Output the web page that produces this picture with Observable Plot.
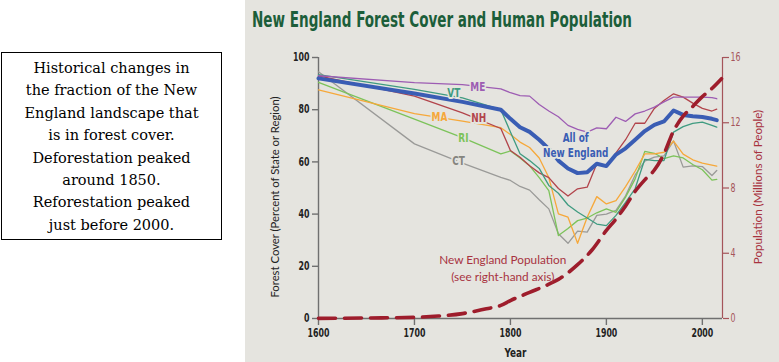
<!DOCTYPE html>
<html><head><meta charset="utf-8">
<script src="https://cdn.jsdelivr.net/npm/d3@7"></script>
<script src="https://cdn.jsdelivr.net/npm/@observablehq/plot@0.6"></script>
<style>
html,body{margin:0;padding:0;background:#fff;width:779px;height:362px;overflow:hidden;}
#note{position:absolute;left:1px;top:52px;width:221px;height:188px;border:1px solid #000;box-sizing:border-box;font-family:"DejaVu Serif","Liberation Serif",serif;font-size:14.5px;line-height:22.4px;text-align:center;padding-top:4px;color:#000;background:#fff;}
#panel{position:absolute;left:245px;top:0;width:534px;height:362px;background:#e5e4df;overflow:hidden;}
#title{position:absolute;left:7px;top:8px;font-family:"Liberation Sans Narrow","DejaVu Sans Condensed","Roboto",sans-serif;font-stretch:condensed;font-weight:bold;font-size:21px;line-height:24px;color:#1c5e3a;white-space:nowrap;transform-origin:0 0;}
#chart{position:absolute;left:0;top:40px;}
</style></head>
<body>
<div id="note">Historical changes in<br>the fraction of the New<br>England landscape that<br>is in forest cover.<br>Deforestation peaked<br>around 1850.<br>Reforestation peaked<br>just before 2000.</div>
<div id="panel">
  <div id="title">New England Forest Cover and Human Population</div>
  <div id="chart"></div>
</div>
<script>
// ---- data ----
const years = [1600, 1700, 1750, 1790, 1800, 1810, 1820, 1830, 1840, 1850, 1860, 1870, 1880, 1890, 1900, 1910, 1920, 1930, 1940, 1950, 1960, 1970, 1980, 1990, 2000, 2010, 2015];
const forestCT = [94.5, 66.9, 59.5, 54.1, 52.9, 50.6, 49.2, 45.5, 42.0, 32.5, 28.8, 33.5, 33.1, 39.5, 40.0, 41.4, 47.0, 55.0, 60.3, 61.8, 62.3, 68.0, 58.0, 58.5, 58.2, 54.8, 56.7];
const forestRI = [90.5, 76.4, 69.3, 63.1, 64.2, 61.5, 58.5, 54.0, 49.0, 31.8, 34.5, 37.5, 38.5, 40.5, 42.0, 40.7, 46.5, 53.5, 64.0, 63.3, 61.3, 62.3, 61.5, 59.0, 57.0, 53.0, 53.3];
const forestMA = [87.6, 78.5, 75.6, 73.1, 70.5, 67.6, 65.5, 61.5, 54.0, 40.1, 38.8, 28.8, 38.8, 46.7, 43.9, 45.2, 50.5, 56.5, 63.1, 63.1, 63.7, 68.0, 63.0, 60.8, 59.5, 58.8, 58.4];
const forestNH = [93.0, 85.2, 78.8, 72.8, 64.4, 61.8, 58.5, 55.8, 54.0, 49.8, 46.9, 49.7, 50.3, 59.3, 58.2, 63.5, 68.5, 74.8, 74.8, 80.5, 83.5, 86.1, 84.8, 82.5, 80.5, 79.5, 80.2];
const forestVT = [93.4, 87.8, 84.5, 80.0, 71.5, 63.1, 60.5, 57.5, 51.0, 48.0, 43.5, 40.8, 38.5, 36.2, 35.6, 39.5, 44.5, 49.8, 61.0, 60.5, 60.5, 71.4, 73.5, 74.8, 75.2, 74.0, 73.3];
const forestME = [93.0, 90.4, 89.6, 88.0, 86.5, 85.4, 85.2, 82.0, 79.5, 77.3, 74.0, 72.5, 71.4, 73.0, 72.7, 77.1, 75.5, 78.4, 79.5, 81.0, 83.0, 84.8, 84.8, 84.8, 84.8, 84.6, 84.2];
const forestNE = [92.0, 86.2, 83.0, 80.0, 76.5, 73.3, 71.5, 68.5, 65.0, 60.5, 57.5, 55.7, 56.0, 59.3, 58.4, 62.8, 65.2, 68.5, 71.8, 74.2, 75.5, 79.7, 78.0, 77.5, 77.2, 76.5, 76.0];

const popYears = [1600, 1650, 1700, 1725, 1750, 1775, 1790, 1800, 1820, 1840, 1850, 1870, 1885, 1900, 1910, 1920, 1930, 1940, 1950, 1960, 1970, 1980, 1990, 2000, 2010, 2020];
const popMillions = [0.01, 0.03, 0.07, 0.15, 0.3, 0.6, 0.8, 1.1, 1.6, 2.1, 2.4, 3.3, 4.2, 5.4, 6.1, 6.9, 7.8, 8.5, 9.1, 10.1, 11.5, 12.4, 13.0, 13.6, 14.1, 14.7];

const leftTicks = [0, 20, 40, 60, 80, 100];
const rightTicks = [0, 4, 8, 12, 16];
const xTicks = [1600, 1700, 1800, 1900, 2000];

const labelNames = ["ME", "VT", "NH", "MA", "RI", "CT", "All of\nNew England"];
const labelYears = [1766, 1741, 1767, 1726, 1751, 1746, 1868];
const labelValues = [88.9, 86.6, 77.0, 77.4, 69.3, 60.5, 66.5];

// ---- build ----
const BG = "#e5e4df";
const COND = '"Liberation Sans Narrow","DejaVu Sans Condensed","Roboto",sans-serif';
const PLAIN = '"Lato","Noto Sans",sans-serif';
const POP_SCALE = 100 / 16;
const colors = {CT:"#9a9a98", RI:"#7cc35a", MA:"#f6a83a", NH:"#b2444b", VT:"#3f9b80", ME:"#9d5cb3", NE:"#3a5db4"};
const stateSeries = [["CT", forestCT], ["RI", forestRI], ["MA", forestMA], ["NH", forestNH], ["VT", forestVT], ["ME", forestME]];
const toRows = (vals) => years.map((yr, i) => ({year: yr, value: vals[i]}));
const popRows = popYears.map((yr, i) => ({year: yr, value: popMillions[i] * POP_SCALE}));
const labelRows = labelNames.map((n, i) => ({name: n, year: labelYears[i], value: labelValues[i]}));
const labelColors = {ME: colors.ME, VT: colors.VT, NH: colors.NH, MA: colors.MA, RI: colors.RI, CT: "#85857f"};

const AXIS_GRAY = "#707070";
const RED_AXIS = "#a5545a";

const chart = Plot.plot({
  width: 534, height: 322,
  marginLeft: 73, marginRight: 57, marginTop: 17, marginBottom: 44,
  x: {domain: [1600, 2021]},
  y: {domain: [0, 100]},
  style: {background: "transparent", fontFamily: COND, color: "#222", overflow: "visible"},
  marks: [
    Plot.ruleY([0], {stroke: AXIS_GRAY, strokeWidth: 1.4}),
    Plot.ruleX([1600], {y1: 0, y2: 100, stroke: AXIS_GRAY, strokeWidth: 1.4}),
    Plot.ruleX([2021], {y1: 0, y2: 100, stroke: RED_AXIS, strokeWidth: 1.2}),
    Plot.axisX({ticks: xTicks, tickFormat: d => String(d), tickSize: 7, tickPadding: 3, stroke: AXIS_GRAY, strokeWidth: 1.4, fill: "#222", fontSize: 11.5, fontWeight: "bold", label: null}),
    Plot.axisY({ticks: leftTicks, tickSize: 6, tickPadding: 3, stroke: AXIS_GRAY, strokeWidth: 1.4, fill: "#222", fontSize: 11.5, fontWeight: "bold", label: null}),
    Plot.axisY({anchor: "right", ticks: rightTicks.map(t => t * POP_SCALE), tickFormat: d => String(Math.round(d / POP_SCALE)), tickSize: 6, tickPadding: 2, stroke: RED_AXIS, strokeWidth: 1.2, fill: RED_AXIS, fontSize: 11.5, label: null}),
    ...stateSeries.map(([name, vals]) => Plot.line(toRows(vals), {x: "year", y: "value", stroke: colors[name], strokeWidth: 1.3})),
    Plot.line(toRows(forestNE), {x: "year", y: "value", stroke: colors.NE, strokeWidth: 4, strokeLinejoin: "round"}),
    Plot.line(popRows, {x: "year", y: "value", curve: "monotone-x", stroke: "#9e1d2c", strokeWidth: 3.6, strokeDasharray: "17,9"}),
    Plot.text(labelRows, {x: "year", y: "value", text: "name", fill: d => d.name.startsWith("All") ? colors.NE : labelColors[d.name], stroke: BG, strokeWidth: 4, fontSize: 13, fontWeight: "bold", lineHeight: 1.1}),
    Plot.text(["New England Population\n(see right-hand axis)"], {x: 1792, y: 19.6, text: d => d, fill: "#a8333f", fontSize: 11.8, fontFamily: PLAIN, lineHeight: 1.4}),
    Plot.text(["Forest Cover (Percent of State or Region)"], {frameAnchor: "left", textAnchor: "middle", text: d => d, rotate: -90, dx: -43, dy: 9, fill: "#222", fontSize: 11.3, fontFamily: PLAIN}),
    Plot.text(["Population (Millions of People)"], {frameAnchor: "right", textAnchor: "middle", text: d => d, rotate: -90, dx: 36, dy: -1, fill: "#a8333f", fontSize: 11.6, fontFamily: PLAIN}),
    Plot.text(["Year"], {frameAnchor: "bottom", text: d => d, dx: -5, dy: 38, fill: "#222", fontSize: 13, fontWeight: "bold"})
  ]
});
document.getElementById("chart").appendChild(chart);

// narrow the condensed-font texts (ticks and series labels) to the reference's condensed look
chart.querySelectorAll("text").forEach(t => {
  const g = t.closest("[font-family]");
  if (g && g.getAttribute("font-family").includes("Lato")) return;
  const spans = t.querySelectorAll("tspan");
  (spans.length ? Array.from(spans) : [t]).forEach(el => {
    const len = el.getComputedTextLength();
    if (len > 0) {
      el.setAttribute("textLength", (len * 0.76).toFixed(2));
      el.setAttribute("lengthAdjust", "spacingAndGlyphs");
    }
  });
});

// fit title width to reference
const t = document.getElementById("title");
const w = t.getBoundingClientRect().width;
t.style.transform = `scaleX(${380 / w})`;
</script>
</body></html>
